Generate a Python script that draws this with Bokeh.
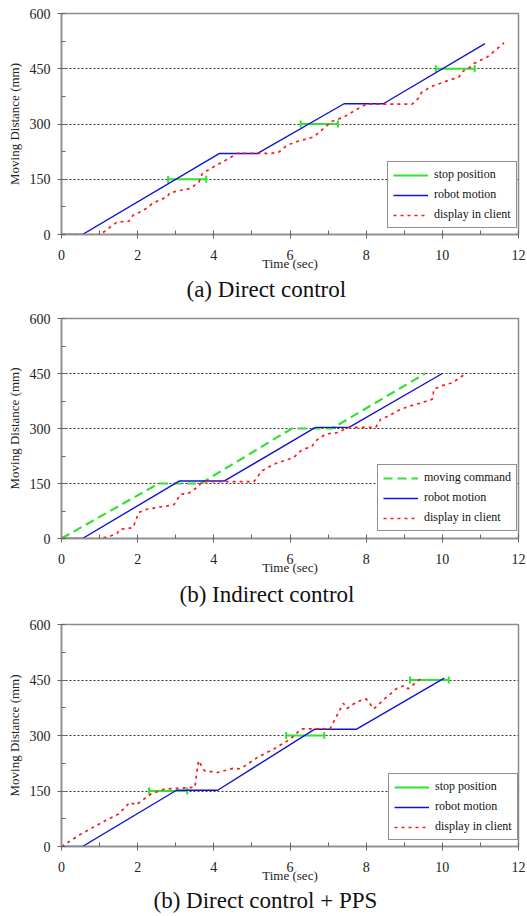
import math
from bokeh.plotting import figure
from bokeh.models import Legend, LegendItem, FixedTicker, Range1d, Title
from bokeh.layouts import column
from bokeh.embed import file_html
from bokeh.resources import INLINE

# ---------------- data ----------------
x_ticks = [0, 2, 4, 6, 8, 10, 12]
x_minor = [1, 3, 5, 7, 9, 11]
y_ticks = [0, 150, 300, 450, 600]
y_minor = [75, 225, 375, 525]
grid_levels = [150, 300, 450]

captions = ["(a) Direct control", "(b) Indirect control", "(b) Direct control + PPS"]

# (a) Direct control
a_robot_t = [0, 0.55, 4.15, 5.15, 7.42, 8.45, 11.12]
a_robot_d = [0, 0, 220, 220, 355, 355, 518]
a_client_t = [0, 1.0, 1.14, 1.29, 1.46, 1.77, 1.88, 2.08, 2.29, 2.38, 2.56, 2.78, 2.84,
              3.04, 3.39, 3.61, 3.70, 4.0, 4.35, 4.61, 5.49, 5.71, 5.93, 6.23, 6.63,
              6.80, 7.02, 7.07, 7.42, 7.72, 8.01, 9.21, 9.39, 9.45, 9.69, 10.04, 10.44,
              10.52, 10.74, 10.83, 11.18, 11.62]
a_client_d = [0, 0, 9, 21, 34, 36, 52, 62, 75, 84, 93, 102, 113,
              118, 125, 143, 166, 184, 204, 220, 220, 224, 243, 254, 265,
              281, 300, 306, 319, 338, 354, 354, 372, 385, 401, 414, 428,
              442, 455, 464, 482, 520]
a_stop_d = [150, 300, 450]
a_stop_t0 = [2.80, 6.28, 9.83]
a_stop_t1 = [3.80, 7.26, 10.85]

# (b) Indirect control
b_cmd_t = [0, 2.55, 3.65, 6.05, 7.1, 9.55]
b_cmd_d = [0, 150, 150, 300, 300, 450]
b_robot_t = [0, 0.55, 3.1, 4.28, 6.67, 7.55, 10.0]
b_robot_d = [0, 0, 157, 157, 303, 303, 450]
b_client_t = [0, 1.02, 1.29, 1.46, 1.53, 1.73, 1.88, 2.03, 2.25, 2.6, 2.95, 3.13, 3.3,
              3.56, 3.7, 5.05, 5.27, 5.58, 5.84, 6.1, 6.28, 6.59, 6.67, 6.94, 7.24,
              7.55, 8.25, 8.38, 8.6, 8.82, 9.08, 9.48, 9.74, 9.78, 9.96, 10.27, 10.59]
b_client_d = [0, 0, 7, 14, 25, 27, 30, 71, 80, 86, 92, 121, 121,
              139, 155, 155, 185, 203, 212, 221, 239, 253, 266, 285, 289,
              303, 303, 325, 335, 348, 359, 371, 380, 407, 416, 425, 448]

# (c) Direct control + PPS
c_robot_t = [0, 0.55, 3.02, 4.1, 6.65, 7.75, 10.05]
c_robot_d = [0, 0, 152, 152, 317, 317, 455]
c_client_t = [0, 0.5, 1.1, 1.5, 1.8, 1.95, 2.35, 2.7, 3.5, 3.6, 3.75, 4.1, 4.5, 4.7,
              5.15, 5.6, 6.0, 6.3, 7.05, 7.4, 7.5, 7.75, 8.0, 8.2, 8.45, 8.8, 9.0,
              9.1, 9.45]
c_client_d = [0, 33, 67, 88, 120, 112, 142, 155, 160, 232, 205, 200, 211, 210,
              241, 265, 290, 318, 318, 387, 373, 391, 399, 372, 396, 427, 435,
              426, 455]
c_stop_d = [150, 300, 450]
c_stop_t0 = [2.30, 5.90, 9.15]
c_stop_t1 = [3.30, 6.90, 10.17]

# ---------------- style ----------------
SERIF = "Liberation Serif"
BLUE = "#1212d6"
RED = "#ff1a1a"
GREEN = "#33e033"
AXIS = "#8c8c8c"


def base_fig(height, frame_h):
    p = figure(width=527, height=height, output_backend="svg", toolbar_location=None,
               x_range=Range1d(0, 12), y_range=Range1d(0, 600),
               min_border_left=61, min_border_right=9, min_border_top=13,
               min_border_bottom=height - 13 - frame_h)
    p.outline_line_color = AXIS
    p.outline_line_width = 1.5
    p.background_fill_color = "white"
    p.border_fill_color = "white"
    p.xgrid.visible = False
    p.ygrid.ticker = FixedTicker(ticks=grid_levels)
    p.ygrid.grid_line_color = "#333333"
    p.ygrid.grid_line_dash = "2 2"
    p.ygrid.grid_line_width = 1
    p.xaxis.ticker = FixedTicker(ticks=x_ticks, minor_ticks=x_minor)
    p.yaxis.ticker = FixedTicker(ticks=y_ticks, minor_ticks=y_minor)
    for ax in (p.xaxis[0], p.yaxis[0]):
        ax.axis_line_color = AXIS
        ax.axis_line_width = 1.5
        ax.major_tick_line_color = "#666666"
        ax.minor_tick_line_color = "#666666"
        ax.major_tick_in = 4
        ax.major_tick_out = 4
        ax.minor_tick_in = 4
        ax.minor_tick_out = 0
        ax.major_label_text_font = SERIF
        ax.major_label_text_font_size = "14px"
        ax.major_label_text_color = "#222222"
        ax.axis_label_text_font = SERIF
        ax.axis_label_text_font_size = "13px"
        ax.axis_label_text_font_style = "normal"
        ax.axis_label_text_color = "#222222"
    p.xaxis.axis_label = "Time (sec)"
    p.xaxis.major_label_standoff = 11
    p.xaxis.axis_label_standoff = -7
    p.yaxis.axis_label = "Moving Distance (mm)"
    p.yaxis.major_label_standoff = 7
    p.yaxis.axis_label_standoff = 5
    return p


def add_legend(p, items, loc):
    lg = Legend(items=items, location=loc, margin=0, padding=5, spacing=5,
                label_height=14, glyph_height=14, glyph_width=35, label_standoff=6,
                label_text_font=SERIF, label_text_font_size="12px",
                label_text_color="#111111",
                border_line_color="#222222", border_line_width=1,
                background_fill_color="white", background_fill_alpha=1)
    p.add_layout(lg)


def add_caption(p, text, offset, standoff):
    p.add_layout(Title(text=text, align="left", offset=offset, standoff=standoff,
                       text_font=SERIF, text_font_size="23px", text_font_style="normal",
                       text_color="#111111"), "below")


def stops(p, t0, t1, d):
    r = p.segment(x0=t0, y0=d, x1=t1, y1=d, line_color=GREEN, line_width=2.2)
    p.scatter(x=t0 + t1, y=d + d, marker="dash", angle=math.pi / 2, size=7,
              line_color=GREEN, line_width=2)
    return r


# ---------- panel (a) ----------
p1 = base_fig(305, 221)
r_stop_a = stops(p1, a_stop_t0, a_stop_t1, a_stop_d)
r_robot_a = p1.line(a_robot_t, a_robot_d, line_color=BLUE, line_width=1.4)
r_client_a = p1.line(a_client_t, a_client_d, line_color=RED, line_width=1.7, line_dash="3 4")
add_legend(p1, [LegendItem(label="stop position", renderers=[r_stop_a]),
                LegendItem(label="robot motion", renderers=[r_robot_a]),
                LegendItem(label="display in client", renderers=[r_client_a])], (326, 6))
add_caption(p1, captions[0], 125, 3)

# ---------- panel (b) ----------
p2 = base_fig(306, 220)
r_cmd_b = p2.line(b_cmd_t, b_cmd_d, line_color=GREEN, line_width=2.2, line_dash="9 5")
r_robot_b = p2.line(b_robot_t, b_robot_d, line_color=BLUE, line_width=1.4)
r_client_b = p2.line(b_client_t, b_client_d, line_color=RED, line_width=1.7, line_dash="3 4")
add_legend(p2, [LegendItem(label="moving command", renderers=[r_cmd_b]),
                LegendItem(label="robot motion", renderers=[r_robot_b]),
                LegendItem(label="display in client", renderers=[r_client_b])], (316, 7))
add_caption(p2, captions[1], 118, 5)

# ---------- panel (c) ----------
p3 = base_fig(304, 222)
r_stop_c = stops(p3, c_stop_t0, c_stop_t1, c_stop_d)
r_robot_c = p3.line(c_robot_t, c_robot_d, line_color=BLUE, line_width=1.4)
r_client_c = p3.line(c_client_t, c_client_d, line_color="#e82020", line_width=1.7, line_dash="3 4")
add_legend(p3, [LegendItem(label="stop position", renderers=[r_stop_c]),
                LegendItem(label="robot motion", renderers=[r_robot_c]),
                LegendItem(label="display in client", renderers=[r_client_c])], (327, 6))
add_caption(p3, captions[2], 92, 1)

layout = column(p1, p2, p3, spacing=0)
open("out.html", "w").write(file_html(layout, INLINE))
